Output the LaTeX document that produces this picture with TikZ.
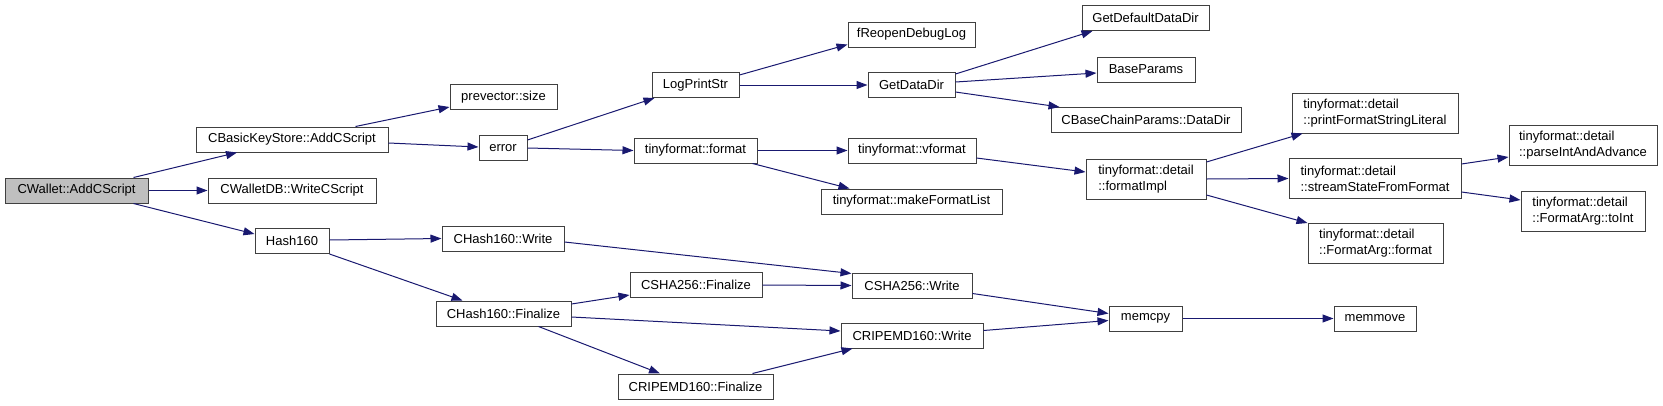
\documentclass[tikz,border=0pt]{standalone}
\usepackage{fontspec}
\setmainfont{Liberation Sans}
\usetikzlibrary{arrows.meta}

\definecolor{edgeblue}{RGB}{25,25,112}
\definecolor{boxgray}{RGB}{64,64,64}
\definecolor{rootgray}{RGB}{191,191,191}

\tikzset{
    fn/.style={draw=boxgray, line width=1pt, fill=white, inner sep=0pt,
        minimum width=#1pt, minimum height=25pt,
        font=\fontsize{13}{16}\selectfont},
    fntwo/.style={fn=#1, minimum height=40pt, align=left},
    call/.style={draw=edgeblue, line width=1pt,
        -{Triangle[length=11pt, width=8pt]}}
}

\begin{document}
\begin{tikzpicture}[x=1pt, y=-1pt]
        \useasboundingbox (0,0) rectangle (1663,405);

        % Caller
        \node[fn=143, fill=rootgray] (cwallet) at (76.5,190.5) {CWallet::AddCScript};

        % Direct callees
        \node[fn=192] (basickey) at (292,139.5) {CBasicKeyStore::AddCScript};
        \node[fn=168] (walletdb) at (292,190.5) {CWalletDB::WriteCScript};
        \node[fn=74]  (hash160)  at (292,241)   {Hash160};

        % Third column
        \node[fn=107] (prevsize) at (503.5,97)    {prevector::size};
        \node[fn=48]  (error)    at (503,148)     {error};
        \node[fn=122] (hwrite)   at (503,238.5)   {CHash160::Write};
        \node[fn=135] (hfinal)   at (503.5,313.5) {CHash160::Finalize};

        % Fourth column
        \node[fn=87]  (logprint)  at (695.5,85)    {LogPrintStr};
        \node[fn=123] (tfformat)  at (695.5,150.5) {tinyformat::format};
        \node[fn=132] (shafinal)  at (696,285)     {CSHA256::Finalize};
        \node[fn=155] (ripefinal) at (695.5,386.5) {CRIPEMD160::Finalize};

        % Fifth column
        \node[fn=127] (reopen)     at (911.5,34.5)  {fReopenDebugLog};
        \node[fn=87]  (getdatadir) at (911.5,85)    {GetDataDir};
        \node[fn=128] (vformat)    at (912,150.5)   {tinyformat::vformat};
        \node[fn=181] (mkfmt)      at (911.5,201.5) {tinyformat::makeFormatList};
        \node[fn=120] (shawrite)   at (912,285.5)   {CSHA256::Write};
        \node[fn=142] (ripewrite)  at (912,335.5)   {CRIPEMD160::Write};

        % Sixth column
        \node[fn=127] (defdatadir)   at (1145.5,18)    {GetDefaultDataDir};
        \node[fn=98]  (baseparams)   at (1146,69.5)    {BaseParams};
        \node[fn=190] (chaindatadir) at (1146,120)     {CBaseChainParams::DataDir};
        \node[fntwo=120] (fmtimpl)   at (1146,179)     {tinyformat::detail\\::formatImpl};
        \node[fn=73]  (memcpy)       at (1145.5,318.5) {memcpy};

        % Seventh column
        \node[fntwo=166] (printlit)    at (1375,113)    {tinyformat::detail\\::printFormatStringLiteral};
        \node[fntwo=172] (streamstate) at (1375,178.5)  {tinyformat::detail\\::streamStateFromFormat};
        \node[fntwo=135] (fmtarg)      at (1375.5,243.5){tinyformat::detail\\::FormatArg::format};
        \node[fn=82]     (memmove)     at (1375,318.5)  {memmove};

        % Last column
        \node[fntwo=148] (parseint) at (1583,145) {tinyformat::detail\\::parseIntAndAdvance};
        \node[fntwo=124] (toint)    at (1583,211) {tinyformat::detail\\::FormatArg::toInt};

        % Straight calls
        \foreach \a/\b in {cwallet/walletdb, logprint/getdatadir, tfformat/vformat,
                fmtimpl/streamstate, shafinal/shawrite, memcpy/memmove, error/tfformat}
            \draw[call] (\a.east) -- (\b.west);

        % Sloped calls
        \draw[call] ([xshift=-15pt]cwallet.north east) -- ([xshift=-55pt]basickey.south);
        \draw[call] ([xshift=-15pt]cwallet.south east) -- ([yshift=7pt]hash160.west);
        \draw[call] ([xshift=-33pt]basickey.north east) -- ([yshift=-10pt]prevsize.west);
        \draw[call] ([yshift=-3.5pt]basickey.east) -- ([yshift=1pt]error.west);
        \draw[call] ([yshift=8pt]error.east) -- ([xshift=3pt]logprint.south west);
        \draw[call] ([yshift=10pt]logprint.east) -- ([yshift=3pt]reopen.south west);
        \draw[call] ([yshift=11pt]getdatadir.east) -- ([xshift=11pt]defdatadir.south west);
        \draw[call] ([yshift=3pt]getdatadir.east) -- ([yshift=-3.5pt]baseparams.west);
        \draw[call] ([yshift=-7pt]getdatadir.east) -- ([xshift=9pt]chaindatadir.north west);
        \draw[call] ([xshift=-5pt]tfformat.south east) -- ([xshift=29pt]mkfmt.north west);
        \draw[call] ([yshift=-7.5pt]vformat.east) -- ([yshift=7pt]fmtimpl.west);
        \draw[call] ([yshift=17pt]fmtimpl.east) -- ([xshift=11pt]printlit.south west);
        \draw[call] ([yshift=-16pt]fmtimpl.east) -- (fmtarg.north west);
        \draw[call] ([yshift=14.5pt]streamstate.east) -- ([yshift=-12pt]parseint.west);
        \draw[call] ([yshift=-13.5pt]streamstate.east) -- ([yshift=11pt]toint.west);
        \draw[call] ([yshift=1pt]hash160.east) -- (hwrite.west);
        \draw[call] (hash160.south east) -- ([xshift=27pt]hfinal.north west);
        \draw[call] ([yshift=-3.5pt]hwrite.east) -- ([yshift=-1pt]shawrite.north west);
        \draw[call] ([yshift=9.5pt]hfinal.east) -- ([yshift=-10pt]shafinal.west);
        \draw[call] ([yshift=-3.5pt]hfinal.east) -- ([yshift=4.5pt]ripewrite.west);
        \draw[call] ([xshift=-33pt]hfinal.south east) -- ([xshift=-35.5pt]ripefinal.north);
        \draw[call] ([xshift=-21pt]ripefinal.north east) -- ([xshift=12pt]ripewrite.south west);
        \draw[call] ([yshift=-8pt]shawrite.east) -- ([yshift=5pt]memcpy.west);
        \draw[call] ([yshift=5pt]ripewrite.east) -- ([yshift=-2pt]memcpy.west);
    \end{tikzpicture}
\end{document}
